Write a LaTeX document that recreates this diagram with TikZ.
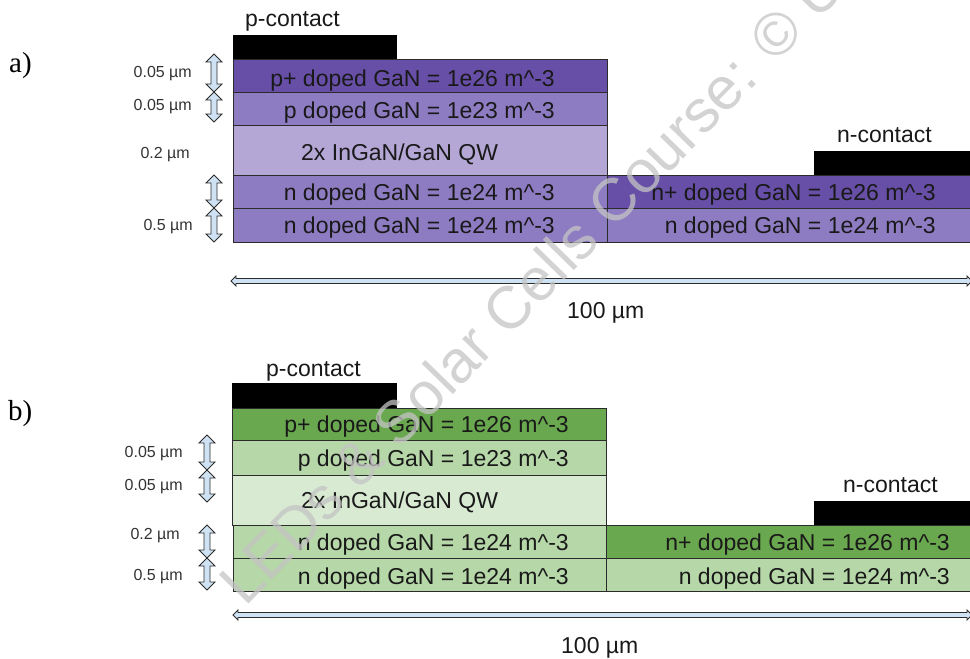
\documentclass[tikz,border=0pt]{standalone}
\usepackage{fontspec}
\setmainfont{Liberation Sans}
\newfontfamily\panelfont{Liberation Serif}
\definecolor{pdark}{HTML}{674EA7}
\definecolor{pmid}{HTML}{8E7CC3}
\definecolor{plight}{HTML}{B4A7D6}
\definecolor{gdark}{HTML}{6AA84F}
\definecolor{gmid}{HTML}{B6D7A8}
\definecolor{glight}{HTML}{D9EAD3}
\definecolor{arrfill}{HTML}{CFE2F3}
\definecolor{outl}{HTML}{2B2B2B}
\definecolor{wmgray}{HTML}{C4C4C4}
\newcommand\vdarrow[3]{%
  \draw[dimarr] (#1,#2) -- ++(8,8) -- ++(-5,0) -- (#1+3,#3-8) -- ++(5,0) -- (#1,#3)
    -- ++(-8,-8) -- ++(5,0) -- (#1-3,#2+8) -- ++(-5,0) -- cycle;}
\newcommand\hdarrow[3]{%
  \draw[dimarr] (#1,#3) -- ++(5,-5) -- ++(0,2.5) -- (#2-5,#3-2.5) -- ++(0,-2.5) -- (#2,#3)
    -- ++(-5,5) -- ++(0,-2.5) -- (#1+5,#3+2.5) -- ++(0,2.5) -- cycle;}
\begin{document}
\begin{tikzpicture}[x=1pt,y=-1pt,
  layer/.style={draw=outl, line width=1pt},
  contact/.style={fill=black},
  lt/.style={font=\fontsize{23}{27}\selectfont, text=black!90, inner sep=0pt},
  dimlbl/.style={font=\fontsize{16}{19}\selectfont, text=black!80, inner sep=0pt, anchor=base east},
  panel/.style={font=\panelfont\fontsize{29}{33}\selectfont, inner sep=0pt, anchor=base west},
  dimarr/.style={draw=outl, fill=arrfill, line width=0.8pt, line join=miter}]
\useasboundingbox (0,0) rectangle (970,659);
\clip (0,0) rectangle (970,659);

% ---------------- panel a ----------------
\node[panel] (pa) at (9,72) {a)};
\node[lt, anchor=base west] (pca) at (245,26) {p-contact};
\node[lt, anchor=base west] (nca) at (837,142) {n-contact};
\fill[contact] (233,35) rectangle (397,59);
\fill[contact] (814,151) rectangle (985,175);
\path[layer, fill=pdark]  (233,59) rectangle (607,92);
\path[layer, fill=pmid]   (233,92) rectangle (607,125);
\path[layer, fill=plight] (233,125) rectangle (607,175);
\path[layer, fill=pmid]   (233,175) rectangle (607,208);
\path[layer, fill=pmid]   (233,208) rectangle (607,242);
\path[layer, fill=pdark]  (607,175) rectangle (985,208);
\path[layer, fill=pmid]   (607,208) rectangle (985,242);
\node[lt, anchor=base east] (a1) at (555,86.5) {p+ doped GaN = 1e26 m\textasciicircum-3};
\node[lt, anchor=base east] (a2) at (555,118.5) {p doped GaN = 1e23 m\textasciicircum-3};
\node[lt, anchor=base west] (a3) at (301,160) {2x InGaN/GaN QW};
\node[lt, anchor=base east] (a4) at (555,200) {n doped GaN = 1e24 m\textasciicircum-3};
\node[lt, anchor=base east] (a5) at (555,233.5) {n doped GaN = 1e24 m\textasciicircum-3};
\node[lt, anchor=base east] (a6) at (936,200) {n+ doped GaN = 1e26 m\textasciicircum-3};
\node[lt, anchor=base east] (a7) at (936,233.5) {n doped GaN = 1e24 m\textasciicircum-3};
\node[dimlbl] (da1) at (192,77) {0.05 µm};
\node[dimlbl] (da2) at (192,110.5) {0.05 µm};
\node[dimlbl] (da3) at (190,158.5) {0.2 µm};
\node[dimlbl] (da4) at (193,230) {0.5 µm};
\vdarrow{214}{54}{92}
\vdarrow{214}{92}{122}
\vdarrow{214}{175}{208}
\vdarrow{214}{208}{242}
\hdarrow{231}{972}{281}
\node[lt, anchor=base west] (wa) at (567,318) {100 µm};

% ---------------- panel b ----------------
\node[panel] (pb) at (8,420) {b)};
\node[lt, anchor=base west] (pcb) at (266,376) {p-contact};
\node[lt, anchor=base west] (ncb) at (843,492) {n-contact};
\fill[contact] (232,383) rectangle (397,408);
\fill[contact] (814,501) rectangle (985,525);
\path[layer, fill=gdark]  (232,408) rectangle (606,440);
\path[layer, fill=gmid]   (232,440) rectangle (606,475);
\path[layer, fill=glight] (232,475) rectangle (606,525);
\path[layer, fill=gmid]   (233,525) rectangle (606,558);
\path[layer, fill=gmid]   (233,558) rectangle (606,591);
\path[layer, fill=gdark]  (606,525) rectangle (985,558);
\path[layer, fill=gmid]   (606,558) rectangle (985,591);
\node[lt, anchor=base east] (b1) at (569,432.5) {p+ doped GaN = 1e26 m\textasciicircum-3};
\node[lt, anchor=base east] (b2) at (569,466.5) {p doped GaN = 1e23 m\textasciicircum-3};
\node[lt, anchor=base west] (b3) at (301,508) {2x InGaN/GaN QW};
\node[lt, anchor=base east] (b4) at (569,550) {n doped GaN = 1e24 m\textasciicircum-3};
\node[lt, anchor=base east] (b5) at (569,584) {n doped GaN = 1e24 m\textasciicircum-3};
\node[lt, anchor=base east] (b6) at (950,550) {n+ doped GaN = 1e26 m\textasciicircum-3};
\node[lt, anchor=base east] (b7) at (950,584) {n doped GaN = 1e24 m\textasciicircum-3};
\node[dimlbl] (db1) at (183,457.3) {0.05 µm};
\node[dimlbl] (db2) at (183,490) {0.05 µm};
\node[dimlbl] (db3) at (180,539.3) {0.2 µm};
\node[dimlbl] (db4) at (183,580.7) {0.5 µm};
\vdarrow{207}{435}{470}
\vdarrow{207}{470}{502}
\vdarrow{207}{525}{558}
\vdarrow{207}{558}{590}
\hdarrow{233}{972}{615}
\node[lt, anchor=base west] (wb) at (561,653) {100 µm};

% ---------------- watermark ----------------
\node[anchor=base west, rotate=45.7, inner sep=0pt, text=wmgray, opacity=0.75,
      font=\fontsize{60}{62}\selectfont] (wm) at (245,608) {LEDs \& Solar Cells Course: © U};
\end{tikzpicture}
\end{document}
